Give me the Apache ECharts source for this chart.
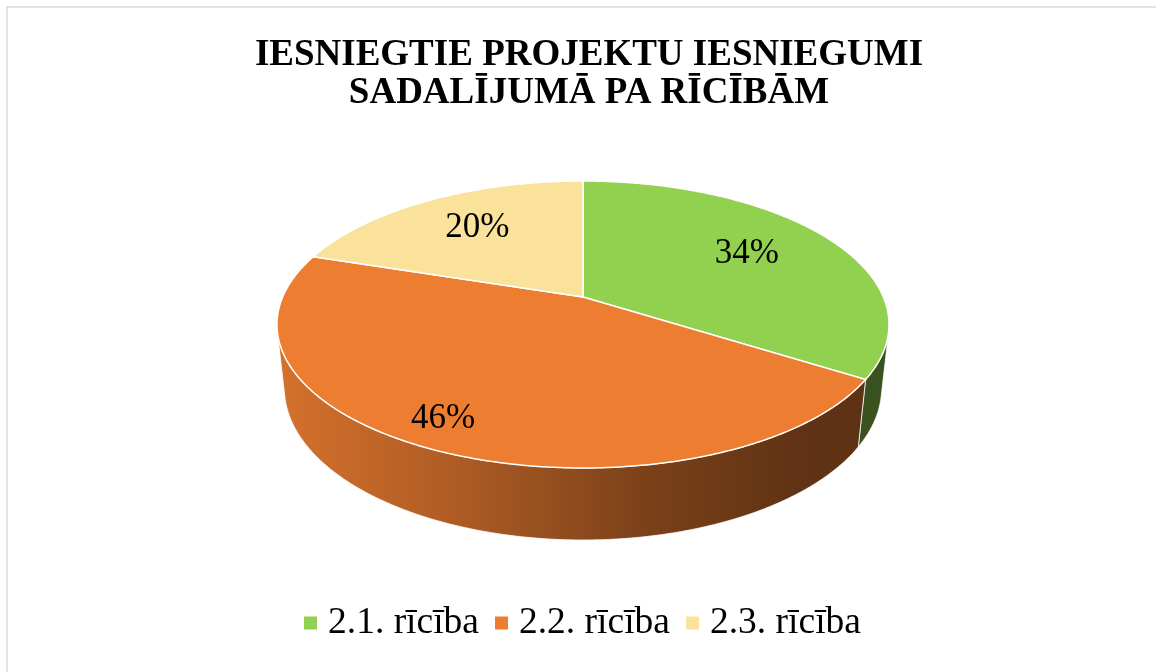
<!DOCTYPE html>
<html>
<head>
<meta charset="utf-8">
<script src="https://cdn.jsdelivr.net/npm/echarts@6/dist/echarts.min.js"></script>
<style>
html, body { margin: 0; padding: 0; background: #fff; }
#main { width: 1156px; height: 672px; }
</style>
</head>
<body>
<div id="main"></div>
<script type="text/javascript">
// dati
var categories = ['2.1. rīcība', '2.2. rīcība', '2.3. rīcība'];
var shares = [34, 46, 20];
var colors = ['#92d050', '#ed7d31', '#fae29a'];
var titleLines = ['IESNIEGTIE PROJEKTU IESNIEGUMI', 'SADALĪJUMĀ PA RĪCĪBĀM'];

var total = 0;
var starts = [];
for (var i = 0; i < shares.length; i++) {
	starts[i] = total;
	total += shares[i];
}

// 3D skata parametri (perspektīva)
var CX = 583, CY = 297;
var S = 0.4602, C = Math.sqrt(1 - S * S);
var L = 4.634, F = 1391.8, H = 0.24;
var WALL_A = Math.PI - Math.acos(1 / (L * C));
var WALL_B = Math.PI + Math.acos(1 / (L * C));

function proj(theta, r, y) {
	var rx = r * Math.sin(theta);
	var ry = y - L * S;
	var rz = r * Math.cos(theta) + L * C;
	var X = rx, Y = ry * C + rz * S, Z = -ry * S + rz * C;
	return [CX + F * X / Z, CY - F * Y / Z];
}

function shade(hex, k) {
	var n = parseInt(hex.slice(1), 16);
	var r = Math.round(((n >> 16) & 255) * k);
	var g = Math.round(((n >> 8) & 255) * k);
	var b = Math.round((n & 255) * k);
	return 'rgb(' + r + ',' + g + ',' + b + ')';
}

function makeRender(idx) {
	return function (params, api) {
		var share = api.value(0);
		var t1 = starts[idx] / total * Math.PI * 2;
		var t2 = t1 + share / total * Math.PI * 2;
		var children = [];
		var step = Math.PI / 360;
		var t;

		// sānu siena
		var a = Math.max(t1, WALL_A), b = Math.min(t2, WALL_B);
		if (a < b) {
			var wall = [];
			for (t = a; t < b; t += step) wall.push(proj(t, 1, 0));
			wall.push(proj(b, 1, 0));
			wall.push(proj(b, 1, -H));
			for (t = b; t > a; t -= step) wall.push(proj(t, 1, -H));
			wall.push(proj(a, 1, -H));
			var base = colors[idx];
			children.push({
				type: 'polygon',
				z2: 1,
				shape: { points: wall },
				style: {
					fill: {
						type: 'linear', x: 278, y: 0, x2: 888, y2: 0, global: true,
						colorStops: [
							{ offset: 0, color: shade(base, 0.9) },
							{ offset: 0.3, color: shade(base, 0.73) },
							{ offset: 0.6, color: shade(base, 0.52) },
							{ offset: 0.85, color: shade(base, 0.41) },
							{ offset: 1, color: shade(base, 0.39) }
						]
					},
					stroke: 'rgba(255,255,255,0.75)',
					lineWidth: 1
				}
			});
		}

		// augšējā virsma
		var top = [proj(0, 0, 0)];
		for (t = t1; t < t2; t += step) top.push(proj(t, 1, 0));
		top.push(proj(t2, 1, 0));
		children.push({
			type: 'polygon',
			z2: 10,
			shape: { points: top },
			style: { fill: colors[idx], stroke: '#fff', lineWidth: 1.5 }
		});

		// procentu etiķete
		var mid = (t1 + t2) / 2;
		var front = Math.max(0, -Math.cos(mid));
		var lr = 0.66 + 0.19 * front;
		var p = proj(mid + 0.07 * front, lr, 0);
		children.push({
			type: 'text',
			z2: 20,
			x: p[0],
			y: p[1] - 2 + 7 * front,
			style: {
				text: Math.round(share / total * 100) + '%',
				fill: '#000',
				fontSize: 35,
				fontFamily: '"Liberation Serif", "Times New Roman", serif',
				align: 'center',
				verticalAlign: 'middle'
			}
		});
		return { type: 'group', children: children };
	};
}

var seriesList = [];
for (var k = 0; k < categories.length; k++) {
	seriesList.push({
		name: categories[k],
		type: 'custom',
		coordinateSystem: 'none',
		itemStyle: { color: colors[k] },
		renderItem: makeRender(k),
		data: [[shares[k]]]
	});
}

var myChart = echarts.init(document.getElementById('main'));
var option = {
	animation: false,
	backgroundColor: '#fff',
	graphic: [
		{
			type: 'rect',
			shape: { x: 7, y: 7, width: 1170, height: 690 },
			style: { fill: null, stroke: '#d9d9d9', lineWidth: 1.5 }
		},
		{
			type: 'text',
			x: 589, y: 55,
			style: {
				text: titleLines[0], fill: '#000', fontSize: 37, fontWeight: 'bold',
				fontFamily: '"Liberation Serif", "Times New Roman", serif',
				align: 'center', verticalAlign: 'middle'
			}
		},
		{
			type: 'text',
			x: 589, y: 93,
			style: {
				text: titleLines[1], fill: '#000', fontSize: 37, fontWeight: 'bold',
				fontFamily: '"Liberation Serif", "Times New Roman", serif',
				align: 'center', verticalAlign: 'middle'
			}
		}
	],
	legend: {
		data: categories,
		left: 304,
		top: 604,
		padding: 0,
		itemGap: 16,
		itemWidth: 13,
		itemHeight: 13,
		icon: 'rect',
		textStyle: {
			fontSize: 37.5,
			color: '#000',
			fontFamily: '"Liberation Serif", "Times New Roman", serif',
			padding: [0, 0, 0, 6]
		}
	},
	series: seriesList
};
myChart.setOption(option);
</script>
</body>
</html>
